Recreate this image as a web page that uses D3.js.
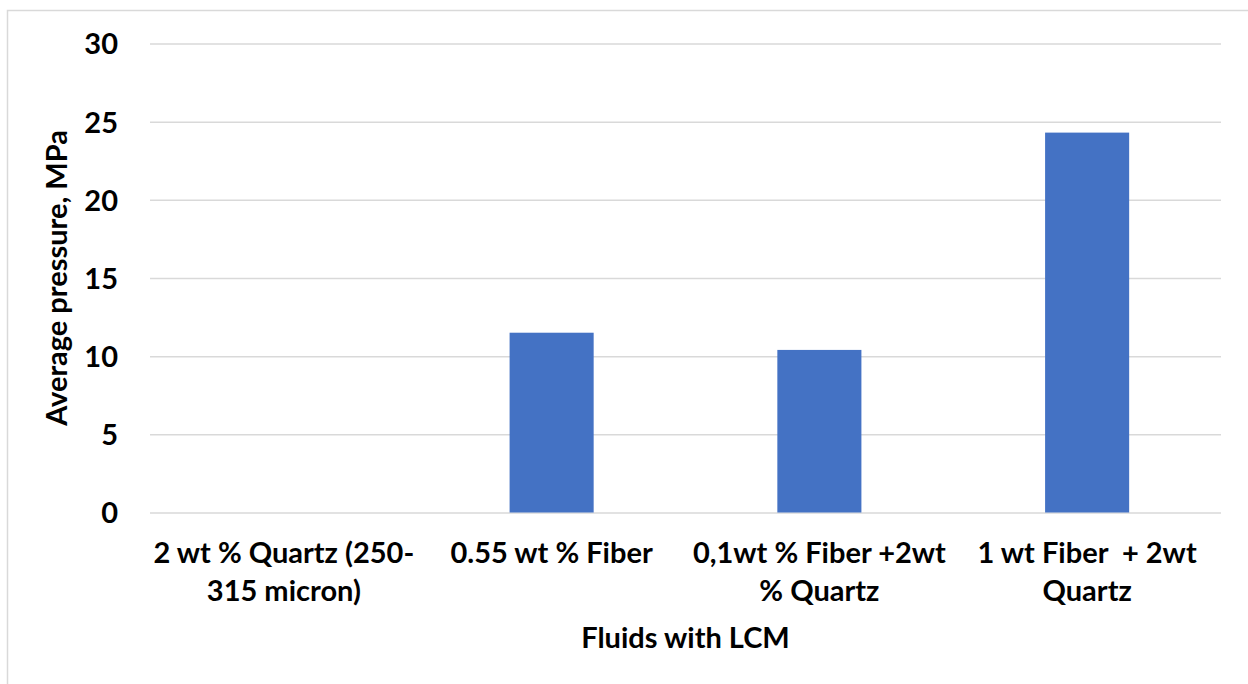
<!DOCTYPE html>
<html>
  <head>
    <meta charset='utf-8' />
    <title>Average pressure by fluid</title>
    <style>
      body {
        margin: 0;
        background-color: white;
      }
      #chart text {
        font-family: Lato, "Open Sans", sans-serif;
        font-weight: 700;
        fill: #000;
        white-space: pre;
      }
    </style>
  </head>
<body>
  <svg id="chart" width="1248" height="684"></svg>

  <script src="https://d3js.org/d3.v7.min.js"></script>
  <script>
    // category labels, split in lines the way they wrap in the picture
    const categories = ["q2", "f055", "f01q2", "f1q2"];
    const categoryLines = [
      ["2 wt % Quartz (250-", "315 micron)"],
      ["0.55 wt % Fiber"],
      ["0,1wt % Fiber +2wt", "% Quartz"],
      ["1 wt Fiber  + 2wt", "Quartz"]
    ];
    const pressure = [0, 11.5, 10.4, 24.3];
    const yTicks = [0, 5, 10, 15, 20, 25, 30];

    const svgWidth = 1248;
    const svgHeight = 684;
    const plotLeft = 150;
    const plotRight = 1221;
    const plotTop = 43.5;
    const plotBottom = 512.5;
    const barRatio = 0.314;

    const svg = d3.select("#chart");

    // outer chart frame (only left and top are visible)
    svg.append("rect")
      .attr("x", 7.5)
      .attr("y", 10.5)
      .attr("width", svgWidth + 20)
      .attr("height", svgHeight + 20)
      .attr("fill", "white")
      .attr("stroke", "#d9d9d9")
      .attr("stroke-width", 1.5);

    const xScale = d3.scaleBand()
      .domain(categories)
      .range([plotLeft, plotRight])
      .padding(0);

    const yScale = d3.scaleLinear()
      .domain([0, 30])
      .range([plotBottom, plotTop]);

    // gridlines + y tick labels
    const yAxis = d3.axisLeft(yScale)
      .tickValues(yTicks)
      .tickSize(-(plotRight - plotLeft))
      .tickPadding(32)
      .tickFormat(d3.format("d"));

    const yG = svg.append("g")
      .attr("transform", "translate(" + plotLeft + ",0)")
      .call(yAxis);
    yG.select(".domain").remove();
    yG.selectAll(".tick line")
      .attr("stroke", "#d9d9d9")
      .attr("stroke-width", 1.5);
    yG.selectAll(".tick text")
      .style("font-size", "29px")
      .attr("dy", "0.36em");

    // bars
    const barWidth = xScale.bandwidth() * barRatio;
    svg.append("g").selectAll("rect")
      .data(pressure)
      .enter()
      .append("rect")
      .attr("x", (d, i) => xScale(categories[i]) + (xScale.bandwidth() - barWidth) / 2)
      .attr("y", d => yScale(d))
      .attr("width", barWidth)
      .attr("height", d => yScale(0) - yScale(d))
      .attr("fill", "#4472c4");

    // category labels
    const labelG = svg.append("g");
    categoryLines.forEach((lines, i) => {
      const t = labelG.append("text")
        .attr("x", xScale(categories[i]) + xScale.bandwidth() / 2)
        .attr("y", 563)
        .attr("text-anchor", "middle")
        .style("font-size", "29px");
      lines.forEach((line, j) => {
        t.append("tspan")
          .attr("x", xScale(categories[i]) + xScale.bandwidth() / 2)
          .attr("dy", j === 0 ? 0 : 38)
          .text(line);
      });
    });

    // axis titles
    svg.append("text")
      .attr("x", (plotLeft + plotRight) / 2)
      .attr("y", 648)
      .attr("text-anchor", "middle")
      .style("font-size", "29px")
      .text("Fluids with LCM");

    svg.append("text")
      .attr("transform", "translate(67," + (plotTop + plotBottom) / 2 + ") rotate(-90)")
      .attr("text-anchor", "middle")
      .style("font-size", "29px")
      .text("Average pressure, MPa");
  </script>
</body>
</html>
